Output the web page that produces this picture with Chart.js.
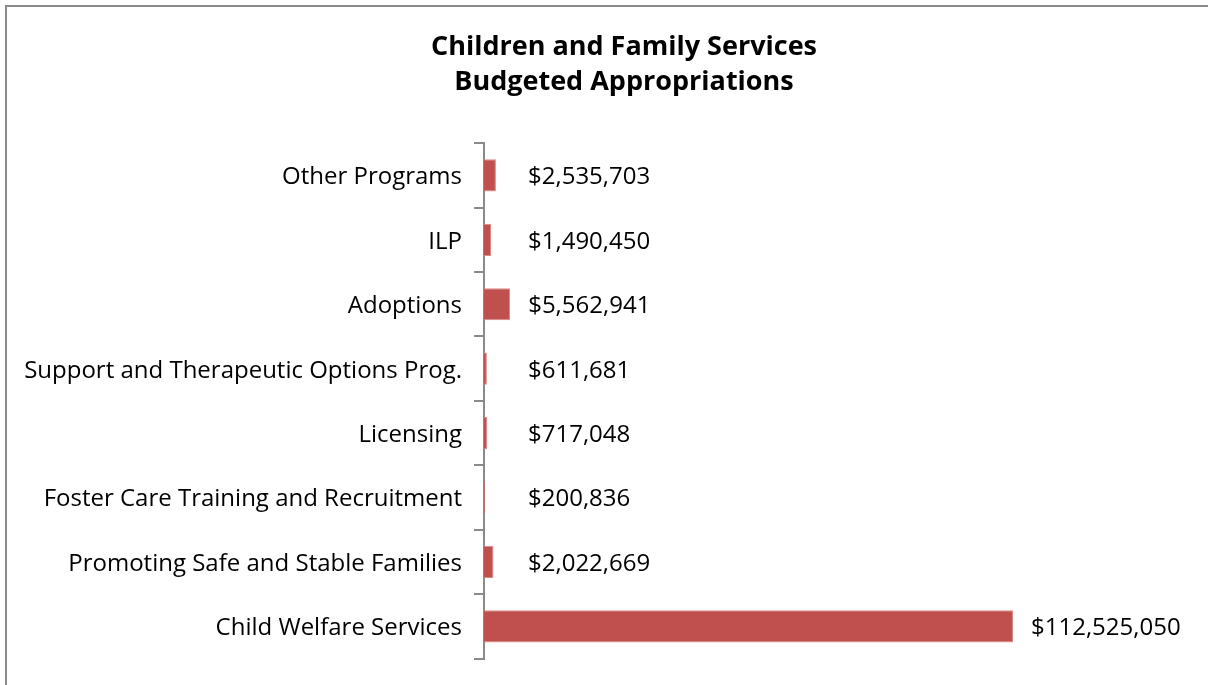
<!DOCTYPE html>
<html>
<head>
<meta charset="utf-8">
<script src="https://cdn.jsdelivr.net/npm/chart.js@4/dist/chart.umd.min.js"></script>
<style>
  html, body { margin: 0; padding: 0; background: #fff; overflow: hidden; }
  #wrap { position: relative; width: 1208px; height: 685px; }
  #frame {
    position: absolute; left: 5px; top: 5px; width: 1300px; height: 800px;
    border-left: 2px solid #8a8a8a; border-top: 2px solid #8a8a8a;
  }
  canvas { position: absolute; left: 0; top: 0; }
</style>
</head>
<body>
<div id="wrap">
  <div id="frame"></div>
  <canvas id="chart" width="1208" height="685"></canvas>
</div>
<script>
// categories top to bottom, as in the picture
const programs = [
  'Other Programs',
  'ILP',
  'Adoptions',
  'Support and Therapeutic Options Prog.',
  'Licensing',
  'Foster Care Training and Recruitment',
  'Promoting Safe and Stable Families',
  'Child Welfare Services'
];
const appropriations = [2535703, 1490450, 5562941, 611681, 717048, 200836, 2022669, 112525050];
const titleLines = ['Children and Family Services', 'Budgeted Appropriations'];

const money = v => '$' + v.toLocaleString('en-US');

// value labels right of each bar
const valueLabels = {
  id: 'valueLabels',
  afterLayout(chart) {
    // title sits a bit right of the canvas centre in the original
    chart.titleBlock.left += 40;
  },
  afterDatasetsDraw(chart) {
    const ctx = chart.ctx;
    const meta = chart.getDatasetMeta(0);
    const left = chart.chartArea.left;
    ctx.save();
    ctx.font = '24px "Open Sans"';
    ctx.fillStyle = '#000';
    ctx.textAlign = 'left';
    ctx.textBaseline = 'middle';
    meta.data.forEach((bar, i) => {
      const x = Math.max(bar.x + 18, left + 44);
      ctx.fillText(money(appropriations[i]), x, bar.y + 2);
    });
    ctx.restore();
  }
};

new Chart(document.getElementById('chart'), {
  type: 'bar',
  data: {
    labels: programs,
    datasets: [{
      data: appropriations,
      backgroundColor: '#C0504D',
      borderColor: '#D88A88',
      borderWidth: 1,
      barPercentage: 0.5,
      categoryPercentage: 1
    }]
  },
  options: {
    indexAxis: 'y',
    responsive: false,
    animation: false,
    layout: { padding: { top: 0, right: 0, bottom: 25, left: 0 } },
    plugins: {
      legend: { display: false },
      tooltip: { enabled: false },
      title: {
        display: true,
        text: titleLines,
        color: '#000',
        font: { family: '"Open Sans"', size: 27, weight: 'bold', lineHeight: 1.3 },
        padding: { top: 30, bottom: 43 }
      }
    },
    scales: {
      x: {
        display: false,
        min: 0,
        max: 154000000
      },
      y: {
        afterFit(scale) { scale.width = 484; },
        border: { display: true, color: '#8a8a8a', width: 2 },
        grid: {
          display: true,
          offset: true,
          drawOnChartArea: false,
          drawTicks: true,
          tickLength: 10,
          color: '#8a8a8a',
          lineWidth: 2
        },
        ticks: {
          color: '#000',
          padding: 12,
          labelOffset: 2,
          font: { family: '"Open Sans"', size: 24 }
        }
      }
    }
  },
  plugins: [valueLabels]
});
</script>
</body>
</html>
